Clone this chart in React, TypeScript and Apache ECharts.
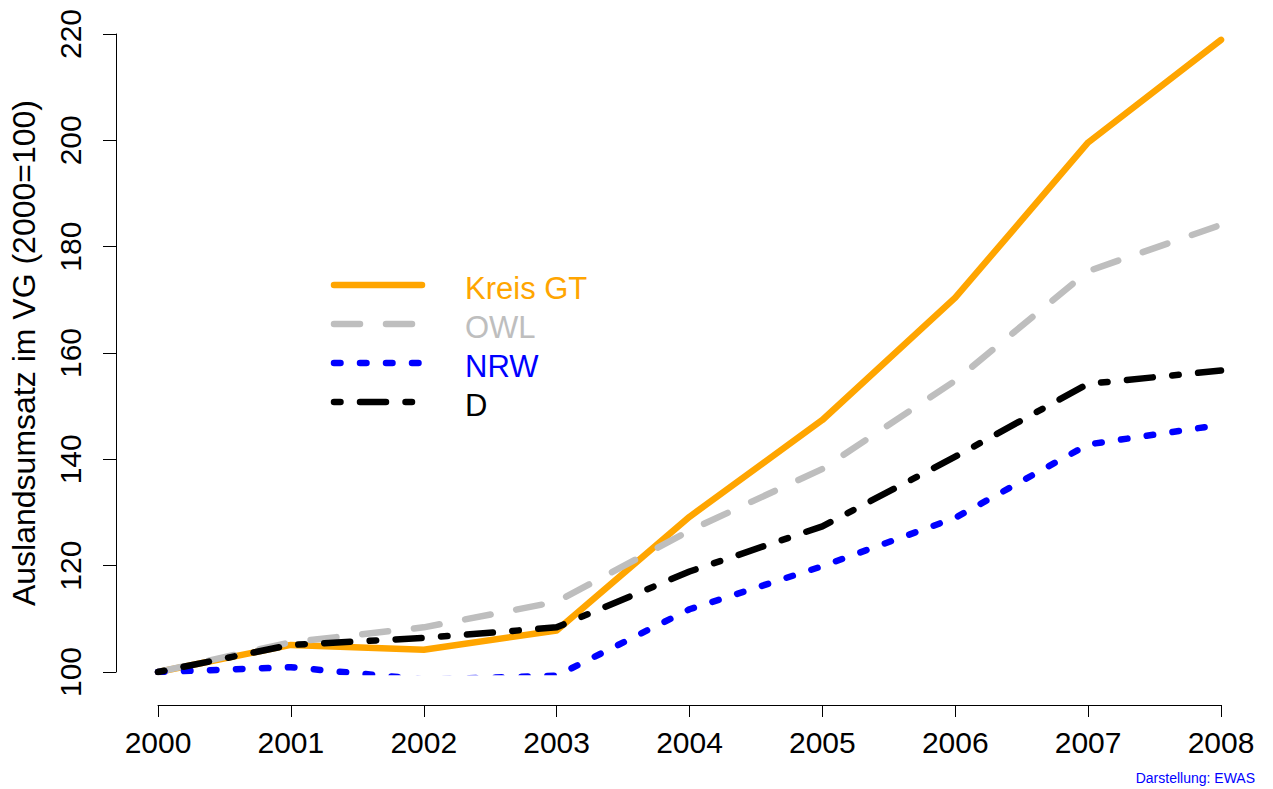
import React, { useEffect, useRef } from "react";
import * as echarts from "echarts";

const years = ["2000", "2001", "2002", "2003", "2004", "2005", "2006", "2007", "2008"];
const kreisGT = [100, 105.1, 104.2, 107.8, 129.2, 147.4, 170.4, 199.6, 218.9];
const owl = [100, 105.6, 108.4, 113.2, 126.6, 138.2, 154.8, 175.4, 184.1];
const nrw = [100, 100.9, 98.6, 99.3, 111.8, 119.9, 129.0, 142.8, 146.5];
const deutschland = [100, 105.1, 106.4, 108.4, 118.9, 127.4, 140.5, 154.2, 156.7];
const seriesNames = ["Kreis GT", "OWL", "NRW", "D"];
const yTicks = { min: 100, max: 220, interval: 20 };

const FONT = '"Liberation Sans", Arial, Helvetica, sans-serif';
const LW = 6.5;

const styles: Record<string, { color: string; dash: number[] | null }> = {
  "Kreis GT": { color: "#FFA500", dash: null },
  OWL: { color: "#BEBEBE", dash: [26, 26] },
  NRW: { color: "#0000FF", dash: [6.5, 19.5] },
  D: { color: "#000000", dash: [6.5, 19.5, 26, 19.5] },
};

export default function App() {
  const ref = useRef<HTMLDivElement>(null);
  useEffect(() => {
    if (!ref.current) return;
    const chart = echarts.init(ref.current, null, { renderer: "svg" });
    const dataByName: Record<string, number[]> = {
      "Kreis GT": kreisGT,
      OWL: owl,
      NRW: nrw,
      D: deutschland,
    };
    const series = seriesNames.map((name) => {
      const s = styles[name];
      return {
        name,
        type: "line",
        data: dataByName[name],
        symbol: "none",
        lineStyle: {
          width: LW,
          color: s.color,
          type: s.dash ? s.dash : "solid",
          cap: "round",
          join: "round",
        },
        itemStyle: { color: s.color },
      };
    });
    const legendGraphics: any[] = [];
    seriesNames.forEach((name, i) => {
      const s = styles[name];
      const cy = 285 + i * 39;
      legendGraphics.push({
        type: "line",
        shape: { x1: 334, y1: cy, x2: 422, y2: cy },
        style: {
          stroke: s.color,
          lineWidth: LW,
          lineCap: "round",
          lineDash: s.dash ? s.dash : null,
        },
      });
      legendGraphics.push({
        type: "text",
        x: 465,
        y: cy + 3,
        style: {
          text: name,
          fill: s.color,
          font: `31px ${FONT}`,
          verticalAlign: "middle",
          textVerticalAlign: "middle",
        },
      });
    });
    chart.setOption({
      animation: false,
      backgroundColor: "#fff",
      textStyle: { fontFamily: FONT },
      grid: { left: 158, right: 52, top: 34, bottom: 117, containLabel: false },
      xAxis: {
        type: "category",
        data: years,
        boundaryGap: false,
        offset: 33,
        axisLine: { show: true, lineStyle: { color: "#000", width: 1 } },
        axisTick: { show: true, length: 12, lineStyle: { color: "#000" } },
        axisLabel: { fontSize: 30, color: "#000", margin: 22, fontFamily: FONT },
        splitLine: { show: false },
      },
      yAxis: {
        type: "value",
        min: yTicks.min,
        max: yTicks.max,
        interval: yTicks.interval,
        offset: 42,
        name: "Auslandsumsatz im VG (2000=100)",
        nameLocation: "middle",
        nameRotate: 90,
        nameGap: 76,
        nameTextStyle: { fontSize: 32, color: "#000", fontFamily: FONT },
        axisLine: { show: true, lineStyle: { color: "#000", width: 1 } },
        axisTick: { show: true, length: 13, lineStyle: { color: "#000" } },
        axisLabel: { fontSize: 30, color: "#000", rotate: 90, margin: 31, fontFamily: FONT },
        splitLine: { show: false },
      },
      graphic: [
        ...legendGraphics,
        {
          type: "text",
          right: 18,
          top: 771,
          style: {
            text: "Darstellung: EWAS",
            fill: "#0000FF",
            font: `14px ${FONT}`,
          },
        },
      ],
      series,
    });
    return () => chart.dispose();
  }, []);
  return (
    <div
      ref={ref}
      style={{ position: "fixed", left: 0, top: 0, width: 1273, height: 789 }}
    />
  );
}
